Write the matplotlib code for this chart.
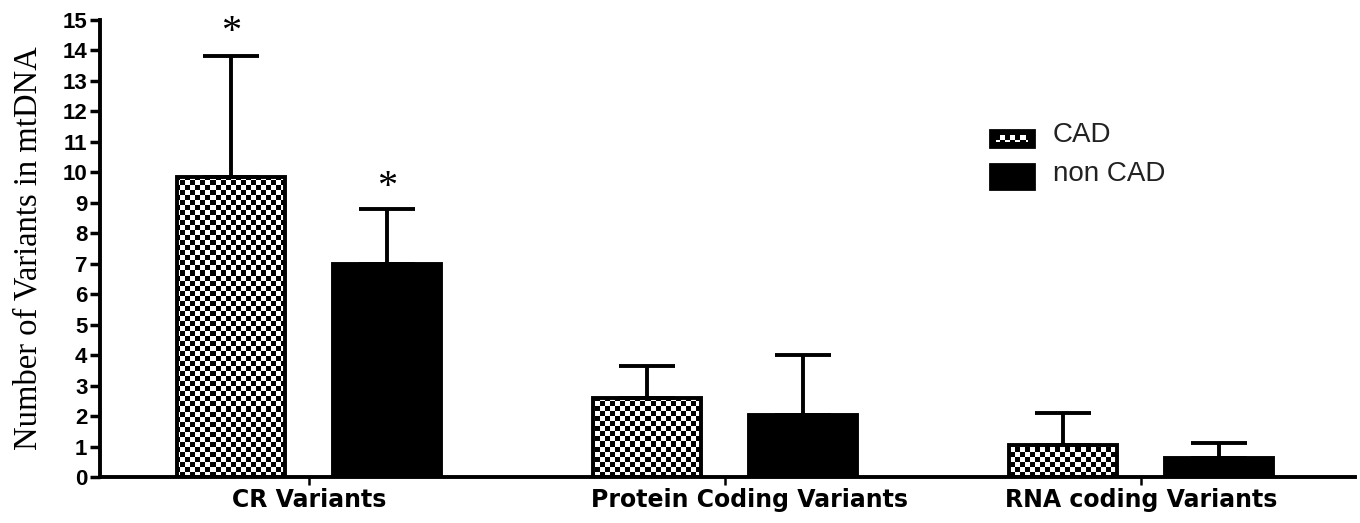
import numpy as np
import matplotlib
matplotlib.use("Agg")
import matplotlib.pyplot as plt
from matplotlib.patches import Rectangle

categories = ["CR Variants", "Protein Coding Variants", "RNA coding Variants"]
cad_mean = [9.85, 2.6, 1.05]
cad_sd = [3.95, 1.05, 1.05]
noncad_mean = [7.0, 2.05, 0.62]
noncad_sd = [1.8, 1.95, 0.5]
star_cad = [True, False, False]
star_noncad = [True, False, False]

fig = plt.figure(figsize=(13.6, 5.23), dpi=100)
ax = fig.add_axes([0.0735, 0.088, 0.9228, 0.874])

x = np.arange(len(categories))
w = 0.26
off = 0.1875
lw = 2.8

# checkerboard texture (about 5 px cells over the axes area)
ny, nx = 91, 251
checker = (np.indices((ny, nx)).sum(axis=0) % 2).astype(float)


def checker_fill(patch, z=2):
    im = ax.imshow(checker, cmap="gray", extent=(0, 1, 0, 1), transform=ax.transAxes,
                   aspect="auto", interpolation="nearest", zorder=z)
    im.set_clip_path(patch)


bars_cad = ax.bar(x - off, cad_mean, w, facecolor="none", edgecolor="black", linewidth=lw, zorder=3)
bars_non = ax.bar(x + off, noncad_mean, w, facecolor="black", edgecolor="black", linewidth=lw, zorder=3)
for b in bars_cad:
    checker_fill(b)

ax.errorbar(x - off, cad_mean, yerr=[np.zeros(3), cad_sd], fmt="none", ecolor="black",
            elinewidth=lw, capsize=20, capthick=lw, zorder=2.5)
ax.errorbar(x + off, noncad_mean, yerr=[np.zeros(3), noncad_sd], fmt="none", ecolor="black",
            elinewidth=lw, capsize=20, capthick=lw, zorder=2.5)

for i in range(3):
    if star_cad[i]:
        ax.annotate("*", (x[i] - off, cad_mean[i] + cad_sd[i]), xytext=(0, 17), textcoords="offset points",
                    ha="center", va="center", fontsize=29, family="Liberation Serif")
    if star_noncad[i]:
        ax.annotate("*", (x[i] + off, noncad_mean[i] + noncad_sd[i]), xytext=(0, 15), textcoords="offset points",
                    ha="center", va="center", fontsize=29, family="Liberation Serif")

ax.set_xlim(-0.502, 2.514)
ax.set_ylim(0, 15)
ax.set_yticks(range(16))

# tick marks on the group centres (minor); labels on major ticks, the middle
# one nudged right as in the original
ax.xaxis.remove_overlapping_locs = False
ax.set_xticks(x + np.array([0, 0.06, 0]))
ax.set_xticklabels(categories, fontsize=17, fontweight="bold", family="DejaVu Sans")
ax.set_xticks(x, minor=True)
ax.tick_params(axis="x", which="major", length=0, pad=8)
ax.tick_params(axis="x", which="minor", direction="out", length=6, width=1.8)

for t in ax.get_yticklabels():
    t.set_fontsize(16)
    t.set_fontweight("bold")
    t.set_family("Liberation Sans")
ax.tick_params(axis="y", direction="out", length=7, width=2.5, pad=2)

for s in ["top", "right"]:
    ax.spines[s].set_visible(False)
ax.spines["left"].set_linewidth(lw)
ax.spines["bottom"].set_linewidth(lw)

ax.set_ylabel("Number of Variants in mtDNA", fontsize=23.5, family="Liberation Serif")
ax.yaxis.set_label_coords(-0.045, 0.5)

# legend drawn by hand so the CAD swatch gets the checker texture
leg_x, leg_w = 0.709, 0.035
rows = [(0.722, 0.038, 0.748, "CAD", True), (0.63, 0.054, 0.663, "non CAD", False)]
for ly, lh, ty, label, textured in rows:
    r = Rectangle((leg_x, ly), leg_w, lh, transform=ax.transAxes,
                  facecolor="black", edgecolor="black", linewidth=2, zorder=4)
    ax.add_patch(r)
    if textured:
        inner = Rectangle((leg_x + 0.005, ly + 0.011), leg_w - 0.01, lh - 0.022, transform=ax.transAxes,
                          facecolor="none", edgecolor="none", zorder=5)
        ax.add_patch(inner)
        checker_fill(inner, z=5)
    ax.text(0.759, ty, label, transform=ax.transAxes,
            fontsize=20, family="Liberation Sans", va="center", ha="left", color="#222222")

fig.savefig("out.png", dpi=100)
